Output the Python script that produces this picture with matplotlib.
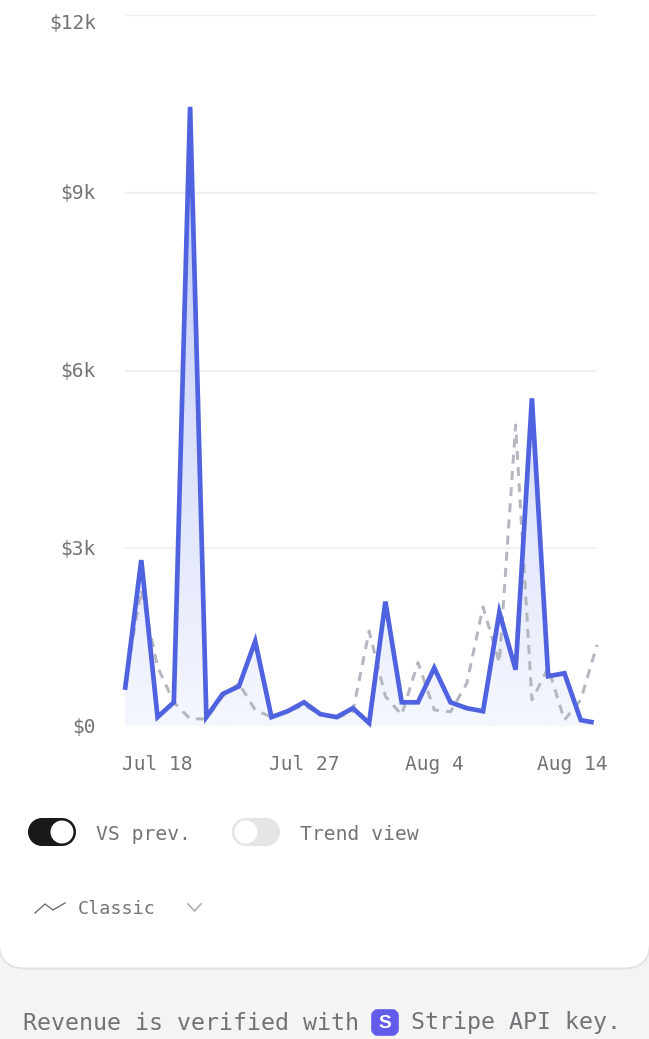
import numpy as np
import matplotlib
matplotlib.use("Agg")
import matplotlib.pyplot as plt
from matplotlib.patches import FancyBboxPatch, Circle, PathPatch, Rectangle
from matplotlib.path import Path
from matplotlib.colors import LinearSegmentedColormap
from matplotlib.transforms import ScaledTranslation

current = [610, 2800, 150, 400, 10450, 150, 540, 670, 1430, 150, 250, 400, 200, 150, 300,
           50, 2100, 400, 400, 980, 400, 300, 250, 1920, 950, 5530, 840, 890, 100, 60]
previous = [700, 2300, 1000, 400, 120, 120, 500, 720, 270, 150, 250, 350, 200, 130, 250,
            1600, 500, 190, 1070, 270, 240, 720, 2010, 1070, 5080, 440, 980, 100, 440, 1370]
days_prev = list(range(30))
days_cur = list(range(29)) + [28.8]
y_ticks = [0, 3000, 6000, 9000, 12000]
y_labels = ["$0", "$3k", "$6k", "$9k", "$12k"]
x_ticks = [2, 11, 19, 29]
x_labels = ["Jul 18", "Jul 27", "Aug 4", "Aug 14"]

W, H = 649, 1039
MONO = ["DejaVu Sans Mono"]
TXT = "#737377"
px = 0.72

fig = plt.figure(figsize=(W / 100, H / 100), dpi=100, facecolor="#f4f4f5")

ui = fig.add_axes([0, 0, 1, 1], zorder=0)
ui.set_xlim(0, W); ui.set_ylim(H, 0); ui.axis("off")
ui.add_patch(FancyBboxPatch((-1, -80), W + 2, 1048.5,
                            boxstyle="round,pad=0,rounding_size=26",
                            fc="white", ec="#e3e3e5", lw=1.4))

L, R, T, B = 125, 597, 15, 726
ax = fig.add_axes([L / W, 1 - B / H, (R - L) / W, (B - T) / H], zorder=1)
ax.patch.set_alpha(0)
ax.set_xlim(0, 29); ax.set_ylim(0, 12000)
for s in ax.spines.values():
    s.set_visible(False)
ax.set_yticks(y_ticks, y_labels)
ax.set_xticks(x_ticks, x_labels)
ax.tick_params(length=0, labelsize=19.5 * px, labelcolor=TXT)
ax.tick_params(axis="y", pad=29 * px)
ax.tick_params(axis="x", pad=29 * px)
for lab in ax.get_xticklabels() + ax.get_yticklabels():
    lab.set_family(MONO)
xl = ax.get_xticklabels()[-1]
xl.set_transform(xl.get_transform() + ScaledTranslation(-25 / 100, 0, fig.dpi_scale_trans))
yl = ax.get_yticklabels()
for lab in yl[:-1]:
    lab.set_transform(lab.get_transform() + ScaledTranslation(0, 1 / 100, fig.dpi_scale_trans))
yl[-1].set_transform(yl[-1].get_transform() + ScaledTranslation(0, -7 / 100, fig.dpi_scale_trans))
ax.grid(axis="y", color="#f0f0f1", lw=1.6)
ax.set_axisbelow(True)

cmap = LinearSegmentedColormap.from_list("f", ["#bcc6f8", "#f5f7fe"])
im = ax.imshow(np.linspace(0, 1, 256)[:, None], extent=[0, 29, 0, max(current)], origin="upper",
               aspect="auto", cmap=cmap, zorder=1)
verts = [(days_cur[0], 0)] + list(zip(days_cur, current)) + [(days_cur[-1], 0)]
clip = PathPatch(Path(verts + [verts[0]], closed=True), transform=ax.transData, fc="none", ec="none")
ax.add_patch(clip)
im.set_clip_path(clip)
ax.set_xlim(0, 29); ax.set_ylim(0, 12000)

ax.plot(days_prev, previous, color="#b4b7bf", lw=3.0 * px, dashes=(3.0, 2.4), zorder=2, clip_on=False)
ax.plot(days_cur, current, color="#4f63e0", lw=4.7 * px, solid_joinstyle="miter",
        solid_capstyle="butt", zorder=3, clip_on=False)


def pill(x0, x1, yc, h, color, knob):
    ui.add_patch(Rectangle((x0 + h / 2, yc - h / 2), x1 - x0 - h, h, fc=color, ec="none"))
    ui.add_patch(Circle((x0 + h / 2, yc), h / 2, fc=color, ec="none"))
    ui.add_patch(Circle((x1 - h / 2, yc), h / 2, fc=color, ec="none"))
    ui.add_patch(Circle((knob, yc), 11.5, fc="white", ec="none", zorder=3))


pill(28, 76, 832, 28, "#18181b", 62)
pill(232, 280, 832, 28, "#e5e5e6", 246)
t = dict(family=MONO, color=TXT, va="center", ha="left")
ui.text(96, 834, "VS prev.", fontsize=19.6 * px, **t)
ui.text(300, 834, "Trend view", fontsize=19.6 * px, **t)
ui.text(78, 909, "Classic", fontsize=18.4 * px, **t)
ui.plot([35, 45, 53, 65], [913, 904, 910, 903], color="#707074", lw=1.0)
ui.plot([188, 194.5, 201], [904, 911, 904], color="#b0b0b4", lw=1.2)
ui.text(23, 1023, "Revenue is verified with", fontsize=23.2 * px, **t)
ui.text(411, 1023, "Stripe API key.", fontsize=23.2 * px, **t)
ui.add_patch(FancyBboxPatch((375, 1013), 20, 19, boxstyle="round,pad=0,rounding_size=3",
                            fc="#635bea", ec="#635bea", lw=5.5))
ui.text(385, 1023, "S", fontsize=19 * px, color="white", family=["Liberation Sans"], weight="bold",
        ha="center", va="center", zorder=4)
ui.set_xlim(0, W); ui.set_ylim(H, 0)

fig.savefig("out.png", dpi=100, facecolor=fig.get_facecolor())
